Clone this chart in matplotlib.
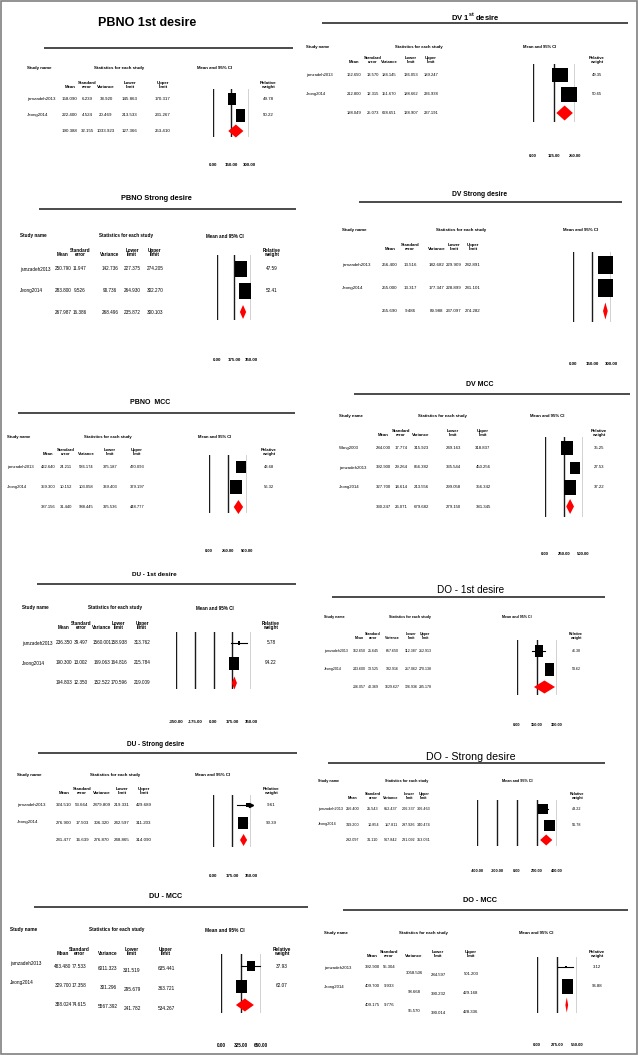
import matplotlib
matplotlib.use("Agg")
import matplotlib.pyplot as plt
from matplotlib.patches import Rectangle
from matplotlib import font_manager as fm

plt.rcParams['font.family'] = ['Liberation Sans', 'DejaVu Sans']
plt.rcParams['mathtext.fontset'] = 'custom'
plt.rcParams['mathtext.rm'] = 'Liberation Sans'
plt.rcParams['mathtext.bf'] = 'Liberation Sans:bold'

W, H = 638, 1055

# the screenshots use a condensed face; use the narrow Liberation one when it is there
_fonts = {f.name for f in fm.fontManager.ttflist}
NARROW = 'Liberation Sans Narrow' if 'Liberation Sans Narrow' in _fonts else None
NSCALE = 1 / 0.82 if NARROW else 1.0   # title scale for the narrow face
TSCALE = 1.18 if NARROW else 1.0       # table text scale for the narrow face
TFAM = NARROW if NARROW else 'Liberation Sans'

# ---- data (last entry of each stat list = pooled summary) ----
pbno1_names = ["jamzadeh2013", "Jeong2014"]
pbno1_mean = [158.090, 222.400, 190.388]
pbno1_se = [6.239, 4.524, 32.155]
pbno1_var = [38.920, 20.469, 1033.923]
pbno1_lower = [145.863, 213.533, 127.366]
pbno1_upper = [170.317, 231.267, 253.410]
pbno1_weight = [49.78, 50.22]
pbno1_ticks = [0, 150, 300]

dv1_names = ["jamzadeh2013", "Jeong2014"]
dv1_mean = [162.650, 212.800, 188.049]
dv1_se = [13.570, 12.315, 25.073]
dv1_var = [184.145, 151.670, 628.651]
dv1_lower = [136.053, 188.662, 138.907]
dv1_upper = [189.247, 236.938, 237.191]
dv1_weight = [49.35, 50.65]
dv1_ticks = [0, 125, 250]

pbnos_names = ["jamzadeh2013", "Jeong2014"]
pbnos_mean = [250.790, 283.800, 267.987]
pbnos_se = [11.947, 9.526, 16.386]
pbnos_var = [142.736, 90.736, 268.496]
pbnos_lower = [227.375, 264.930, 235.872]
pbnos_upper = [274.205, 302.270, 300.103]
pbnos_weight = [47.59, 52.41]
pbnos_ticks = [0, 175, 350]

dvs_names = ["jamzadeh2013", "Jeong2014"]
dvs_mean = [256.400, 255.000, 255.690]
dvs_se = [13.516, 13.317, 9.486]
dvs_var = [182.682, 177.347, 89.988]
dvs_lower = [229.909, 228.899, 237.097]
dvs_upper = [282.891, 281.101, 274.282]
dvs_weight = None
dvs_ticks = [0, 150, 300]

pbnom_names = ["jamzadeh2013", "Jeong2014"]
pbnom_mean = [422.640, 359.300, 387.156]
pbnom_se = [24.211, 10.152, 31.440]
pbnom_var = [586.174, 103.058, 988.445]
pbnom_lower = [375.187, 339.403, 325.536]
pbnom_upper = [470.093, 379.197, 448.777]
pbnom_weight = [43.68, 56.32]
pbnom_ticks = [0, 250, 500]

dvm_names = ["Wang2003", "jamzadeh2013", "Jeong2014"]
dvm_mean = [284.000, 392.900, 327.700, 330.247]
dvm_se = [17.774, 29.264, 14.614, 26.071]
dvm_var = [315.923, 856.382, 213.556, 679.682]
dvm_lower = [249.163, 335.544, 299.058, 279.150]
dvm_upper = [318.837, 450.256, 356.342, 381.345]
dvm_weight = [35.25, 27.53, 37.22]
dvm_ticks = [0, 250, 500]

du1_names = ["jamzadeh2013", "Jeong2014"]
du1_mean = [236.350, 190.300, 194.803]
du1_se = [39.497, 13.002, 12.350]
du1_var = [1560.001, 169.063, 152.522]
du1_lower = [158.938, 164.816, 170.596]
du1_upper = [313.762, 215.784, 219.009]
du1_weight = [5.78, 94.22]
du1_ticks = [-350, -175, 0, 175, 350]

do1_names = ["jamzadeh2013", "Jeong2014"]
do1_mean = [162.650, 243.600, 206.057]
do1_se = [25.645, 13.525, 40.369]
do1_var = [657.650, 182.916, 1629.627]
do1_lower = [112.387, 217.062, 126.936]
do1_upper = [212.913, 270.138, 285.178]
do1_weight = [46.38, 53.62]
do1_ticks = [0, 150, 300]

dus_names = ["jamzadeh2013", "Jeong2014"]
dus_mean = [324.510, 276.900, 281.477]
dus_se = [53.664, 17.503, 16.639]
dus_var = [2879.809, 306.320, 276.870]
dus_lower = [219.331, 242.597, 248.865]
dus_upper = [429.689, 311.203, 314.090]
dus_weight = [9.61, 90.39]
dus_ticks = [0, 175, 350]

dos_names = ["jamzadeh2013", "Jeong2014"]
dos_mean = [256.400, 319.200, 292.097]
dos_se = [25.543, 10.854, 31.110]
dos_var = [652.437, 117.811, 967.842]
dos_lower = [206.337, 297.926, 231.092]
dos_upper = [306.463, 340.474, 353.031]
dos_weight = [43.22, 56.78]
dos_ticks = [-400, -200, 0, 200, 400]

dum_names = ["jamzadeh2013", "Jeong2014"]
dum_mean = [483.480, 329.700, 388.024]
dum_se = [77.533, 17.358, 74.615]
dum_var = [6011.323, 301.296, 5567.392]
dum_lower = [331.519, 295.679, 241.782]
dum_upper = [635.441, 363.721, 534.267]
dum_weight = [37.93, 62.07]
dum_ticks = [0, 325, 650]

dom_names = ["jamzadeh2013", "Jeong2014"]
dom_mean = [392.900, 409.700, 409.175]
dom_se = [55.304, 9.933, 9.776]
dom_var = [3058.506, 98.668, 95.570]
dom_lower = [284.597, 390.232, 390.014]
dom_upper = [501.203, 429.168, 428.336]
dom_weight = [3.12, 96.88]
dom_ticks = [0, 275, 550]

HEADS = ['Mean', 'Standard\nerror', 'Variance', 'Lower\nlimit', 'Upper\nlimit', 'Relative\nweight']

fig = plt.figure(figsize=(W / 100, H / 100), dpi=100)
bg = fig.add_axes([0, 0, 1, 1])
bg.set_xlim(0, W)
bg.set_ylim(H, 0)
bg.axis('off')
bg.add_patch(Rectangle((1, 1), W - 2.5, H - 2.5, fill=False, ec='#808080', lw=1.2))


def forest(names, mean, se, var, lower, upper, weight, ticks, L):
    fs = L['fs'] * TSCALE
    # title and rule
    tkw = dict(ha='center', va='center', fontsize=L['tsize'], fontweight=L['tweight'])
    if L.get('narrow') and NARROW:
        tkw['family'] = NARROW
        tkw['fontsize'] = L['tsize'] * NSCALE
    bg.text(L['tx'], L['ty'], L['title'], **tkw)
    rx0, rx1, ry = L['rule']
    bg.plot([rx0, rx1], [ry, ry], color='#1a1a1a', lw=1.1, solid_capstyle='butt')

    # table headers
    hy = L['head_y']
    bold = dict(fontsize=fs, fontweight='bold', va='center', family=TFAM)
    bg.text(L['name_x'], hy, 'Study name', ha='left', **bold)
    bg.text(L['stats_x'], hy, 'Statistics for each study', ha='center', **bold)
    bg.text(L['ci_x'], hy, 'Mean and 95% CI', ha='center', **bold)
    for h, cx in zip(HEADS, L['col_x']):
        if cx is None or (h.startswith('Relative') and weight is None):
            continue
        bg.text(cx, L['head_b'], h, ha='center', va='bottom', fontsize=fs,
                fontweight='bold', linespacing=0.85, family=TFAM)

    # table body
    n = len(names)
    r0, st = L['row0'], L['step']
    dy = L.get('col_dy', [0, 0, 0, 0, 0])
    plain = dict(va='center', fontsize=fs, family=TFAM)
    for i in range(n + 1):
        y = r0 + i * st
        if i < n:
            bg.text(L['name_x'], y + L.get('name_dy', 0), names[i], ha='left', **plain)
        vals = [mean[i], se[i], var[i], lower[i], upper[i]]
        for j, (v, cx) in enumerate(zip(vals, L['col_x'][:5])):
            bg.text(cx, y + dy[j], f"{v:.3f}", ha='center', **plain)
        if i < n and weight is not None:
            bg.text(L['col_x'][5], y, f"{weight[i]:.2f}", ha='center', **plain)

    # forest plot
    x0, x1, top, bot = L['plot']
    ax = fig.add_axes([x0 / W, 1 - bot / H, (x1 - x0) / W, (bot - top) / H])
    ax.set_xlim(ticks[0], ticks[-1])
    ax.set_ylim((bot - r0) / st, -(r0 - top) / st)
    ax.patch.set_visible(False)
    for s in ax.spines.values():
        s.set_visible(False)
    ax.set_yticks([])
    ax.set_xticks(ticks)
    ax.set_xticklabels([f"{t:.2f}" for t in ticks], fontweight='bold',
                       fontsize=L['kfs'] * TSCALE, family=TFAM)
    ax.tick_params(axis='x', length=0, pad=(L['tick_y'] - 2 - bot) * 0.72)
    for t in ticks:
        ax.axvline(t, color='#1a1a1a', lw=1.0, zorder=1)

    bw, bh = L['box']
    wmax = max(weight) if weight else 1
    for i in range(n):
        f = (weight[i] / wmax) ** 0.5 if weight else 1
        w, h = bw * f, bh * f
        lo_c = max(lower[i], ticks[0])
        hi_c = min(upper[i], ticks[-1])
        ax.plot([lo_c, hi_c], [i, i], color='k', lw=0.8, zorder=2, clip_on=False)
        if upper[i] > ticks[-1]:
            ax.plot([hi_c], [i], marker='>', ms=3, color='k', clip_on=False, zorder=2)
        verts = [(-w / 2, -h / 2), (w / 2, -h / 2), (w / 2, h / 2), (-w / 2, h / 2), (-w / 2, -h / 2)]
        ax.plot([mean[i]], [i], marker=verts, ms=max(w, h) * 0.72, color='k', mew=0,
                linestyle='none', zorder=3, clip_on=False)
    dh = L['dia'] / st
    ax.fill([lower[n], mean[n], upper[n], mean[n]], [n, n - dh / 2, n, n + dh / 2],
            color='#ff0000', lw=0, zorder=3, clip_on=False)


forest(pbno1_names, pbno1_mean, pbno1_se, pbno1_var, pbno1_lower, pbno1_upper, pbno1_weight, pbno1_ticks,
       dict(title='PBNO 1st desire', tx=147, ty=23, tsize=9, tweight='bold', rule=(44, 293, 48),
            fs=3.2, head_y=68, name_x=27, stats_x=119, ci_x=215,
            col_x=[70, 87, 106, 130, 163, 268], head_b=89, row0=99, step=16,
            plot=(213, 249, 89, 137), tick_y=165, kfs=3.2, box=(9, 13), dia=13))

forest(dv1_names, dv1_mean, dv1_se, dv1_var, dv1_lower, dv1_upper, dv1_weight, dv1_ticks,
       dict(title=r'DV 1$^{\mathbf{st}}$ desire', tx=475, ty=16, tsize=5.5, tweight='bold', rule=(322, 628, 23),
            fs=3.0, head_y=47, name_x=306, stats_x=419, ci_x=540,
            col_x=[354, 373, 389, 411, 431, 597], head_b=64, row0=75, step=19,
            plot=(533, 575, 64, 122), tick_y=156, kfs=3.0, box=(16, 15), dia=15))

forest(pbnos_names, pbnos_mean, pbnos_se, pbnos_var, pbnos_lower, pbnos_upper, pbnos_weight, pbnos_ticks,
       dict(title='PBNO Strong desire', tx=156, ty=198, tsize=5.3, tweight='bold', rule=(39, 296, 209),
            fs=3.3, head_y=236, name_x=20, stats_x=126, ci_x=225,
            col_x=[63, 80, 110, 132, 155, 272], head_b=257, row0=269, step=21.5,
            plot=(217, 251, 255, 320), tick_y=360, kfs=3.2, box=(12, 16), dia=14))

forest(dvs_names, dvs_mean, dvs_se, dvs_var, dvs_lower, dvs_upper, dvs_weight, dvs_ticks,
       dict(title='DV Strong desire', tx=480, ty=194, tsize=4.9, tweight='bold', rule=(359, 622, 202),
            fs=3.2, head_y=230, name_x=342, stats_x=461, ci_x=581,
            col_x=[390, 410, 437, 454, 473, None], head_b=251, row0=265, step=23,
            plot=(573, 611, 252, 322), tick_y=364, kfs=3.2, box=(15, 18), dia=17))

forest(pbnom_names, pbnom_mean, pbnom_se, pbnom_var, pbnom_lower, pbnom_upper, pbnom_weight, pbnom_ticks,
       dict(title='PBNO  MCC', tx=150, ty=402, tsize=5.0, tweight='bold', rule=(18, 295, 413),
            fs=3.0, head_y=437, name_x=7, stats_x=108, ci_x=215,
            col_x=[48, 66, 86, 110, 137, 269], head_b=456, row0=467, step=20,
            plot=(209, 247, 455, 513), tick_y=551, kfs=3.0, box=(12, 14), dia=14))

forest(dvm_names, dvm_mean, dvm_se, dvm_var, dvm_lower, dvm_upper, dvm_weight, dvm_ticks,
       dict(title='DV MCC', tx=480, ty=385, tsize=5.0, tweight='bold', rule=(354, 630, 394),
            fs=3.1, head_y=416, name_x=339, stats_x=442, ci_x=547,
            col_x=[383, 401, 421, 453, 483, 599], head_b=437, row0=448, step=19.5,
            plot=(545, 583, 437, 517), tick_y=554, kfs=3.1, box=(12, 15), dia=15))

forest(du1_names, du1_mean, du1_se, du1_var, du1_lower, du1_upper, du1_weight, du1_ticks,
       dict(title='DU - 1st desire', tx=154, ty=574, tsize=4.6, tweight='bold', narrow=True,
            rule=(37, 296, 584),
            fs=3.3, head_y=608, name_x=22, stats_x=115, ci_x=215,
            col_x=[64, 81, 102, 119, 142, 271], head_b=630, row0=643, step=20,
            plot=(176, 251, 632, 689), tick_y=722, kfs=3.2, box=(10, 13), dia=13))

forest(do1_names, do1_mean, do1_se, do1_var, do1_lower, do1_upper, do1_weight, do1_ticks,
       dict(title='DO - 1st desire', tx=471, ty=590, tsize=7.2, tweight='normal', narrow=True,
            rule=(332, 605, 597),
            fs=2.6, head_y=617, name_x=324, stats_x=410, ci_x=517,
            col_x=[359, 373, 392, 411, 425, 576], head_b=640, row0=651, step=18,
            plot=(517, 557, 640, 695), tick_y=725, kfs=2.8, box=(9, 13), dia=13))

forest(dus_names, dus_mean, dus_se, dus_var, dus_lower, dus_upper, dus_weight, dus_ticks,
       dict(title='DU - Strong desire', tx=156, ty=744, tsize=4.7, tweight='bold', narrow=True,
            rule=(38, 297, 753),
            fs=3.2, head_y=775, name_x=17, stats_x=115, ci_x=213,
            col_x=[64, 82, 102, 122, 144, 271], head_b=795, row0=805, step=17.5,
            plot=(213, 251, 795, 847), tick_y=876, kfs=3.2, box=(10, 12), dia=12))

forest(dos_names, dos_mean, dos_se, dos_var, dos_lower, dos_upper, dos_weight, dos_ticks,
       dict(title='DO - Strong desire', tx=471, ty=757, tsize=7.7, tweight='normal', narrow=True,
            rule=(328, 605, 763),
            fs=2.7, head_y=781, name_x=318, stats_x=407, ci_x=517,
            col_x=[353, 373, 391, 409, 424, 577], head_b=800, row0=809, step=15.5,
            plot=(477, 557, 800, 846), tick_y=871, kfs=2.8, box=(11, 11), dia=11))

forest(dum_names, dum_mean, dum_se, dum_var, dum_lower, dum_upper, dum_weight, dum_ticks,
       dict(title='DU - MCC', tx=166, ty=897, tsize=5.2, tweight='bold', rule=(34, 308, 907),
            fs=3.4, head_y=930, name_x=10, stats_x=117, ci_x=225,
            col_x=[63, 79, 108, 132, 166, 282], head_b=956, row0=966, step=19.5,
            name_dy=-3, col_dy=[0, 0, 2, 4, 3],
            plot=(221, 261, 954, 1013), tick_y=1045, kfs=3.3, box=(11, 13), dia=13))

forest(dom_names, dom_mean, dom_se, dom_var, dom_lower, dom_upper, dom_weight, dom_ticks,
       dict(title='DO - MCC', tx=480, ty=901, tsize=5.3, tweight='bold', rule=(343, 628, 910),
            fs=3.1, head_y=933, name_x=324, stats_x=423, ci_x=536,
            col_x=[372, 389, 414, 438, 471, 597], head_b=958, row0=967, step=19,
            name_dy=1, col_dy=[0, 0, 6, 8, 7],
            plot=(537, 577, 957, 1013), tick_y=1045, kfs=3.1, box=(11, 15), dia=15))

fig.savefig('out.png', dpi=100)
